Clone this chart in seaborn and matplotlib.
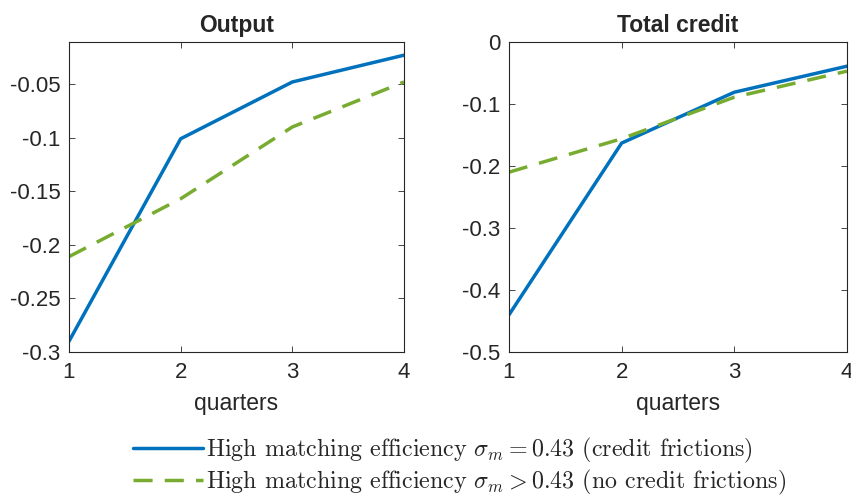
import matplotlib
matplotlib.use("Agg")
import matplotlib.pyplot as plt
import seaborn as sns
import pandas as pd

quarters = [1, 2, 3, 4]
output_cf = [-0.290, -0.101, -0.048, -0.023]
output_ncf = [-0.211, -0.157, -0.090, -0.048]
credit_cf = [-0.440, -0.163, -0.081, -0.039]
credit_ncf = [-0.210, -0.156, -0.089, -0.047]
titles = ["Output", "Total credit"]
labels = [r"High matching efficiency $\sigma_m = 0.43$ (credit frictions)",
          r"High matching efficiency $\sigma_m > 0.43$ (no credit frictions)"]

sns.set_style("ticks")
plt.rcParams["font.family"] = ["Liberation Sans", "DejaVu Sans"]
plt.rcParams["axes.unicode_minus"] = False
plt.rcParams["mathtext.fontset"] = "cm"

fig = plt.figure(figsize=(8.51, 4.95), dpi=100)
W, H = 851, 495
ax1 = fig.add_axes([69 / W, 1 - 352 / H, (404 - 69) / W, (352 - 42) / H])
ax2 = fig.add_axes([509 / W, 1 - 352 / H, (847 - 509) / W, (352 - 42) / H])

blue = "#0072BD"
green = "#77AC30"

data = [(output_cf, output_ncf), (credit_cf, credit_ncf)]
for ax, (cf, ncf), title in zip([ax1, ax2], data, titles):
    df1 = pd.DataFrame({"q": quarters, "v": cf})
    df2 = pd.DataFrame({"q": quarters, "v": ncf})
    sns.lineplot(data=df1, x="q", y="v", ax=ax, color=blue, linewidth=2.5, label=labels[0], legend=False)
    sns.lineplot(data=df2, x="q", y="v", ax=ax, color=green, linewidth=2.5, linestyle=(0, (5.5, 3.5)), label=labels[1], legend=False)
    ax.set_xlim(1, 4)
    ax.set_xticks(quarters)
    ax.set_xlabel("quarters", fontsize=16.5, color="#262626", labelpad=7)
    ax.set_ylabel("")
    ax.set_title(title, fontsize=16.5, fontweight="bold", pad=7)
    ax.tick_params(direction="in", top=True, right=True, labelsize=16, colors="#262626", length=4, width=0.6)
    ax.tick_params(axis="x", pad=7)
    ax.tick_params(axis="y", pad=6)
    for s in ax.spines.values():
        s.set_visible(True)
        s.set_linewidth(0.8)
        s.set_color("#262626")

ax1.set_ylim(-0.3, -0.0107)
ax1.set_yticks([-0.3, -0.25, -0.2, -0.15, -0.1, -0.05])
ax1.set_yticklabels(["-0.3", "-0.25", "-0.2", "-0.15", "-0.1", "-0.05"])
ax2.set_ylim(-0.5, 0)
ax2.set_yticks([-0.5, -0.4, -0.3, -0.2, -0.1, 0])
ax2.set_yticklabels(["-0.5", "-0.4", "-0.3", "-0.2", "-0.1", "0"])

handles, labs = ax1.get_legend_handles_labels()
fig.legend(handles, labs, loc="center", bbox_to_anchor=(460 / W, 1 - 466 / H),
           frameon=False, prop={"family": "cmr10", "size": 17.3},
           handlelength=2.9, handletextpad=0.15, labelspacing=0.12)

fig.savefig("out.png", dpi=100)
